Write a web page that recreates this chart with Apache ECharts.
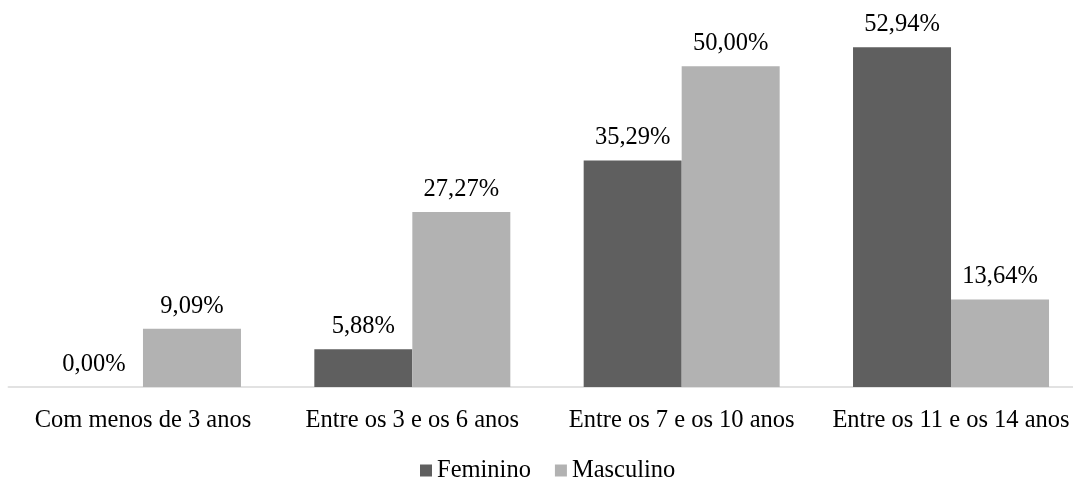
<!DOCTYPE html>
<html>
<head>
<meta charset="utf-8">
<style>
  html, body { margin: 0; padding: 0; background: #ffffff; }
  #chart { width: 1073px; height: 482px; }
</style>
<script src="https://cdn.jsdelivr.net/npm/echarts@6/dist/echarts.min.js"></script>
</head>
<body>
<div id="chart"></div>
<script>
// Age groups on the category axis
const categories = [
  'Com menos de 3 anos',
  'Entre os 3 e os 6 anos',
  'Entre os 7 e os 10 anos',
  'Entre os 11 e os 14 anos'
];
// Percentages per sex
const feminino = [0.00, 5.88, 35.29, 52.94];
const masculino = [9.09, 27.27, 50.00, 13.64];
const seriesNames = ['Feminino', 'Masculino'];

const FONT = '"Liberation Serif", "DejaVu Serif", serif';

function pct(v) {
  return v.toFixed(2).replace('.', ',') + '%';
}

const labelStyle = {
  show: true,
  position: 'top',
  distance: 10,
  color: '#000000',
  fontFamily: FONT,
  fontSize: 24.5,
  formatter: p => pct(p.value)
};

const chart = echarts.init(document.getElementById('chart'), null, { renderer: 'canvas' });
chart.setOption({
  animation: false,
  backgroundColor: '#ffffff',
  // plot area runs a little past the right edge, so the last label is clipped
  grid: {
    left: 8.3,
    width: 1077.4,
    top: 2,
    bottom: 95,
    containLabel: false,
    outerBoundsMode: 'none'
  },
  legend: {
    data: seriesNames,
    left: 415,
    top: 453,
    icon: 'rect',
    itemWidth: 12,
    itemHeight: 12,
    itemGap: 24,
    textStyle: { fontFamily: FONT, fontSize: 24.5, color: '#000000' }
  },
  xAxis: {
    type: 'category',
    data: categories,
    axisLine: { show: true, lineStyle: { color: '#d9d9d9', width: 1.5 } },
    axisTick: { show: false },
    axisLabel: {
      interval: 0,
      margin: 21,
      color: '#000000',
      fontFamily: FONT,
      fontSize: 24.5
    }
  },
  yAxis: {
    type: 'value',
    min: 0,
    max: 60,
    show: false,
    splitLine: { show: false }
  },
  series: [
    {
      name: seriesNames[0],
      type: 'bar',
      data: feminino,
      barWidth: 98,
      barGap: '0%',
      itemStyle: { color: '#5f5f5f' },
      label: labelStyle
    },
    {
      name: seriesNames[1],
      type: 'bar',
      data: masculino,
      barWidth: 98,
      barGap: '0%',
      itemStyle: { color: '#b2b2b2' },
      label: labelStyle
    }
  ]
});
</script>
</body>
</html>
